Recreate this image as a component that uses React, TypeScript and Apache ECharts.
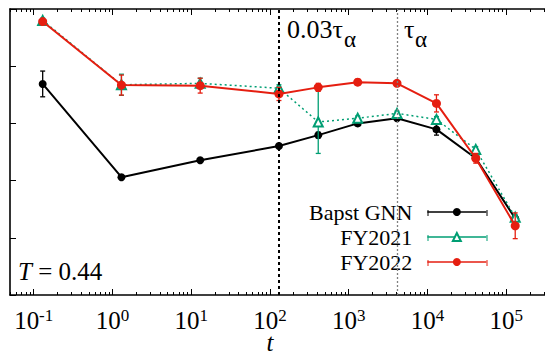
import React, { useEffect, useRef } from "react";
import * as echarts from "echarts";

// ---- data ----
const times = [0.13, 1.3, 13, 130, 410, 1300, 4100, 13000, 41000, 130000];
const bapstValues = [0.738, 0.412, 0.471, 0.521, 0.559, 0.6, 0.618, 0.579, 0.478, 0.268];
const bapstErrors = [0.045, 0.005, 0.005, 0.006, 0.01, 0.008, 0.006, 0.02, 0.01, 0.01];
const fy2021Values = [0.96, 0.735, 0.74, 0.723, 0.605, 0.618, 0.635, 0.614, 0.509, 0.272];
const fy2021Errors = [0.008, 0.037, 0.018, 0.012, 0.11, 0.008, 0.008, 0.01, 0.01, 0.008];
const fy2022Values = [0.956, 0.734, 0.732, 0.703, 0.726, 0.744, 0.74, 0.67, 0.478, 0.242];
const fy2022Errors = [0.006, 0.035, 0.026, 0.023, 0.014, 0.01, 0.005, 0.03, 0.017, 0.045];
const seriesNames = ["Bapst GNN", "FY2021", "FY2022"];
const majorTicks = [0.1, 1, 10, 100, 1000, 10000, 100000];
const minorMultipliers = [2, 3, 4, 5, 6, 7, 8, 9];
const tauAlpha = 4100;
const tauFraction = 130; // 0.03 tau_alpha

const X_MIN = 0.05;
const X_MAX = 1e6;
const SERIF = "Liberation Serif";
const BLACK = "#000000";
const GREEN = "#009e73";
const RED = "#e51e10";

const minorTicks: number[] = [];
[0.01, 0.1, 1, 10, 100, 1000, 10000, 100000].forEach((d) =>
  minorMultipliers.forEach((m) => {
    const v = d * m;
    if (v >= X_MIN && v <= X_MAX) minorTicks.push(v);
  })
);

function errorSeries(name: string, values: number[], errors: number[], color: string, z: number) {
  return {
    type: "custom",
    name,
    z,
    silent: true,
    data: times.map((t, i) => [t, values[i], errors[i]]),
    encode: { x: 0, y: 1 },
    renderItem: (_params: any, api: any) => {
      const t = api.value(0);
      const v = api.value(1);
      const e = api.value(2);
      const hi = api.coord([t, v + e]);
      const lo = api.coord([t, v - e]);
      const w = 2.5;
      const style = { stroke: color, lineWidth: 1.3 };
      return {
        type: "group",
        children: [
          { type: "line", shape: { x1: hi[0], y1: hi[1], x2: lo[0], y2: lo[1] }, style },
          { type: "line", shape: { x1: hi[0] - w, y1: hi[1], x2: hi[0] + w, y2: hi[1] }, style },
          { type: "line", shape: { x1: lo[0] - w, y1: lo[1], x2: lo[0] + w, y2: lo[1] }, style },
        ],
      };
    },
  };
}

function xAxisBase(position: "bottom" | "top", ticks: number[], len: number, showLine: boolean) {
  return {
    type: "log",
    position,
    min: X_MIN,
    max: X_MAX,
    logBase: 10,
    axisLine: { show: showLine, lineStyle: { color: BLACK, width: 1.6 } },
    axisTick: { show: true, inside: true, length: len, customValues: ticks, lineStyle: { color: BLACK, width: 1 } },
    axisLabel: { show: false },
    splitLine: { show: false },
  };
}

export default function App() {
  const ref = useRef<HTMLDivElement>(null);
  useEffect(() => {
    if (!ref.current) return;
    const chart = echarts.init(ref.current, null, { renderer: "svg" });
    const bottomMajor: any = xAxisBase("bottom", majorTicks, 6, true);
    bottomMajor.axisLabel = {
      show: true,
      customValues: majorTicks,
      margin: 12,
      fontFamily: SERIF,
      formatter: (v: number) => `{b|10}{s|${Math.round(Math.log10(v))}}`,
      rich: {
        b: { fontSize: 25, fontFamily: SERIF, color: BLACK, lineHeight: 26 },
        s: { fontSize: 17, fontFamily: SERIF, color: BLACK, lineHeight: 17, verticalAlign: "top" },
      },
    };
    bottomMajor.name = "t";
    bottomMajor.nameLocation = "middle";
    bottomMajor.nameGap = 38;
    bottomMajor.nameMoveOverlap = false;
    bottomMajor.nameTextStyle = {
      fontStyle: "italic",
      fontSize: 25,
      fontFamily: SERIF,
      color: BLACK,
      lineHeight: 19,
      padding: [0, 55, 0, 0],
    };

    const legendRows = [
      { y: 213, color: BLACK },
      { y: 238, color: GREEN },
      { y: 263, color: RED },
    ];
    const legendCaps: any[] = [];
    legendRows.forEach((r) => {
      [428, 487].forEach((x) => {
        legendCaps.push({
          type: "line",
          shape: { x1: x, y1: r.y - 3, x2: x, y2: r.y + 3 },
          style: { stroke: r.color, lineWidth: 1 },
          silent: true,
        });
      });
    });

    chart.setOption({
      animation: false,
      backgroundColor: "#ffffff",
      textStyle: { fontFamily: SERIF },
      grid: { left: 10, width: 575, top: 9, bottom: 59, containLabel: false, outerBoundsMode: "none" },
      xAxis: [
        bottomMajor,
        xAxisBase("bottom", minorTicks, 3, false),
        xAxisBase("top", majorTicks, 6, true),
        xAxisBase("top", minorTicks, 3, false),
      ],
      yAxis: {
        type: "value",
        min: 0,
        max: 1,
        interval: 0.2,
        axisLine: { show: true, lineStyle: { color: BLACK, width: 1.6 } },
        axisTick: { show: true, inside: true, length: 6, lineStyle: { color: BLACK } },
        axisLabel: { show: false },
        splitLine: { show: false },
      },
      legend: {
        data: seriesNames,
        orient: "vertical",
        right: 58,
        top: 201,
        align: "right",
        itemWidth: 59,
        itemHeight: 10,
        itemGap: 3,
        padding: 0,
        lineStyle: { type: "solid", width: 1.3 },
        textStyle: { fontFamily: SERIF, fontSize: 22, color: BLACK, lineHeight: 22, padding: [0, 10, 0, 0] },
      },
      graphic: [
        {
          type: "text",
          x: 18,
          y: 271,
          style: {
            text: "{i|T} = 0.44",
            fontFamily: SERIF,
            fontSize: 25,
            fill: BLACK,
            verticalAlign: "middle",
            rich: { i: { fontFamily: SERIF, fontSize: 25, fontStyle: "italic", fill: BLACK } },
          },
        },
        {
          type: "text",
          x: 287,
          y: 29,
          style: { text: "0.03τ", fontFamily: SERIF, fontSize: 26, fill: BLACK, verticalAlign: "middle" },
        },
        {
          type: "text",
          x: 344,
          y: 39,
          style: { text: "α", fontFamily: SERIF, fontSize: 23, fill: BLACK, verticalAlign: "middle" },
        },
        {
          type: "text",
          x: 404,
          y: 29,
          style: { text: "τ", fontFamily: SERIF, fontSize: 26, fill: BLACK, verticalAlign: "middle" },
        },
        {
          type: "text",
          x: 415,
          y: 39,
          style: { text: "α", fontFamily: SERIF, fontSize: 23, fill: BLACK, verticalAlign: "middle" },
        },
        ...legendCaps,
      ],
      series: [
        {
          type: "line",
          name: seriesNames[0],
          z: 2,
          data: times.map((t, i) => [t, bapstValues[i]]),
          symbol: "circle",
          symbolSize: 8,
          lineStyle: { color: BLACK, width: 2 },
          itemStyle: { color: BLACK },
          markLine: {
            silent: true,
            symbol: ["none", "none"],
            label: { show: false },
            data: [
              { xAxis: tauFraction, lineStyle: { color: BLACK, type: [3, 3], width: 2 } },
              { xAxis: tauAlpha, lineStyle: { color: "#808080", type: [2, 2], width: 1.3 } },
            ],
          },
        },
        errorSeries("Bapst GNN error", bapstValues, bapstErrors, BLACK, 2),
        errorSeries("FY2021 error", fy2021Values, fy2021Errors, GREEN, 3),
        {
          type: "line",
          name: seriesNames[1],
          z: 3,
          data: times.map((t, i) => [t, fy2021Values[i]]),
          symbol: "emptyTriangle",
          symbolSize: 9,
          lineStyle: { color: GREEN, width: 1.5, type: [2, 3] },
          itemStyle: { color: GREEN, borderColor: GREEN, borderWidth: 1.3 },
        },
        errorSeries("FY2022 error", fy2022Values, fy2022Errors, RED, 4),
        {
          type: "line",
          name: seriesNames[2],
          z: 4,
          data: times.map((t, i) => [t, fy2022Values[i]]),
          symbol: "circle",
          symbolSize: 9,
          lineStyle: { color: RED, width: 2 },
          itemStyle: { color: RED },
        },
      ],
    });
    return () => chart.dispose();
  }, []);

  return <div ref={ref} style={{ position: "absolute", left: 0, top: 0, width: 545, height: 354 }} />;
}
